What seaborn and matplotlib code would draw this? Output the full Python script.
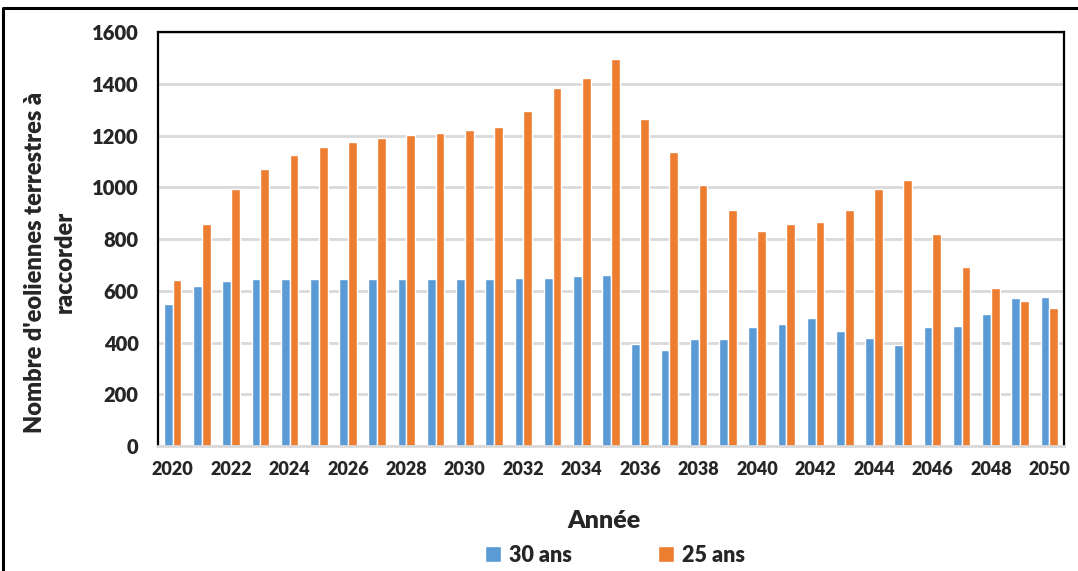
import pandas as pd
import numpy as np
import matplotlib.pyplot as plt
import seaborn as sns
from matplotlib.patches import Patch
from matplotlib.lines import Line2D

annees = list(range(2020, 2051))
vals_30ans = [547, 617, 636, 646, 646, 646, 646, 646, 646, 646, 646,
              646, 651, 651, 656, 662, 395, 370, 413, 413, 458,
              473, 493, 444, 419, 389, 458, 463, 512, 573, 577]
vals_25ans = [642, 859, 992, 1071, 1126, 1156, 1175, 1191, 1201, 1209, 1220,
              1234, 1295, 1384, 1422, 1497, 1264, 1135, 1008, 913, 829,
              859, 864, 913, 992, 1027, 820, 691, 612, 561, 533]
series = ['30 ans', '25 ans']
couleurs = ['#5B9BD5', '#ED7D31']
yticks = [0, 200, 400, 600, 800, 1000, 1200, 1400, 1600]

sns.set_theme(style="white")
plt.rcParams['font.family'] = ['Lato', 'DejaVu Sans']
plt.rcParams['font.weight'] = 'bold'

df = pd.DataFrame({
    'Annee': [str(a) for a in annees] * 2,
    'Valeur': vals_30ans + vals_25ans,
    'Serie': [series[0]] * len(annees) + [series[1]] * len(annees),
})

fig = plt.figure(figsize=(10.78, 5.71), dpi=100)
ax = fig.add_axes([158 / 1078, 1 - 446 / 571, (1064 - 158) / 1078, (446 - 32) / 571])

sns.barplot(data=df, x='Annee', y='Valeur', hue='Serie', palette=couleurs,
            width=0.6, gap=0, ax=ax, legend=False, saturation=1)

ax.set_ylim(0, 1600)
ax.set_xlim(-0.5, len(annees) - 0.5)
ax.set_yticks(yticks)
ax.set_yticklabels([str(v) for v in yticks], fontsize=14.5, fontweight='heavy')
pos = list(range(0, len(annees), 2))
ax.set_xticks(pos)
ax.set_xticklabels([str(annees[i]) for i in pos], fontsize=13, fontweight='heavy')
ax.tick_params(axis='y', length=0, pad=14)
ax.tick_params(axis='x', length=0, pad=11)

ax.yaxis.grid(True, color='#d9d9d9', linewidth=2)
ax.set_axisbelow(True)
for s in ['left', 'top', 'right']:
    ax.spines[s].set_color('black')
    ax.spines[s].set_linewidth(1.6)
ax.spines['bottom'].set_color('#d9d9d9')
ax.spines['bottom'].set_linewidth(2)

ax.set_xlabel('')
ax.set_ylabel('')
fig.text(604 / 1078, 1 - 521 / 571, 'Année', ha='center', va='center',
         fontsize=18, fontweight='heavy')
fig.text(50 / 1078, 1 - 262 / 571, "Nombre d'eoliennes terrestres à\nraccorder",
         ha='center', va='center', rotation=90, fontsize=17, fontweight='heavy',
         linespacing=1.45)

handles = [Patch(facecolor=c, label=s) for c, s in zip(couleurs, series)]
fig.legend(handles=handles, loc='center', bbox_to_anchor=(615 / 1078, 1 - 555 / 571),
           ncol=2, frameon=False, handlelength=0.75, handleheight=0.75,
           handletextpad=0.35, columnspacing=4.0,
           prop={'weight': 'heavy', 'size': 15.5})

# cadre exterieur
fig.add_artist(Line2D([3 / 1078, 3 / 1078, 1.0], [0.0, 1 - 8 / 571, 1 - 8 / 571],
                      transform=fig.transFigure, color='black', linewidth=2.2))

fig.savefig('out.png', dpi=100)
